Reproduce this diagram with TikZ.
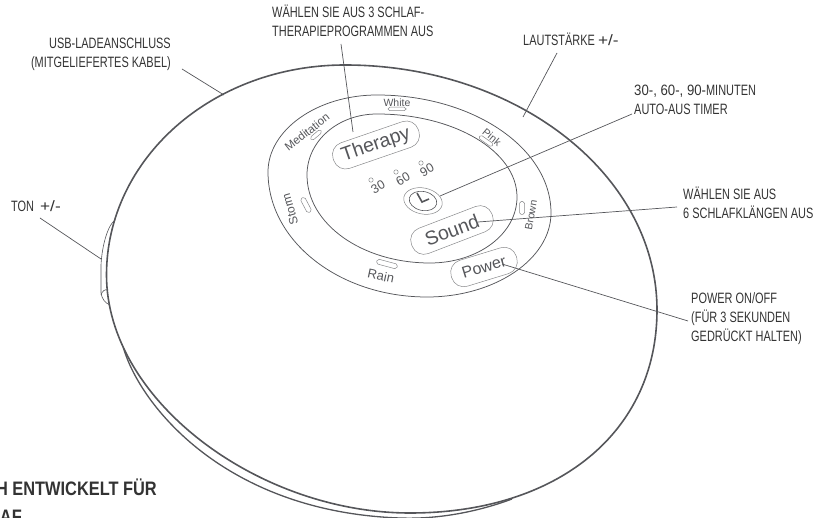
\documentclass[tikz,border=0pt]{standalone}
\usepackage{fontspec}
\setmainfont{Liberation Sans}
\newfontfamily\condf[FakeStretch=0.73]{Liberation Sans}
\newfontfamily\condb[FakeStretch=0.84]{Liberation Sans}
\newfontfamily\digf[FakeStretch=0.88]{Liberation Sans}
\newfontfamily\plusf[FakeStretch=1.15]{Liberation Sans}
\usetikzlibrary{shapes.geometric}
\definecolor{ink}{HTML}{55565A}
\definecolor{txt}{HTML}{333333}
\tikzset{
  body/.style={draw=ink,line width=1.6pt,line join=round},
  ring/.style={draw=ink,line width=0.75pt},
  leader/.style={draw=ink,line width=0.7pt},
  lab/.style={font=\condf\fontsize{15}{19}\selectfont,text=txt,inner sep=0pt,align=left},
  headline/.style={font=\condb\bfseries\fontsize{19.5}{20}\selectfont,text=txt,inner sep=0pt,anchor=base east},
  pill/.style={draw=ink!70,line width=0.5pt,rounded corners=12.5pt,inner sep=0pt,text=ink,minimum height=27pt},
  led/.style={draw=ink!70,line width=0.5pt,rounded corners=1.8pt,inner sep=0pt,minimum height=4pt},
  dial/.style={text=ink,inner sep=0pt},
  dot/.style={draw=ink!70,line width=0.5pt,circle,inner sep=0pt,minimum size=4.4pt}
}
\begin{document}
\begin{tikzpicture}[x=1pt,y=-1pt]
\useasboundingbox (0,0) rectangle (817,518);
\clip (0,0) rectangle (817,518);
% body outline
\draw[body] (345,65) .. controls (517,65) and (657,175) .. (657,310)
  .. controls (657,432) and (558,513) .. (410,513)
  .. controls (258,513) and (106.5,400) .. (106.5,275)
  .. controls (106.5,159) and (212,65) .. (345,65) -- cycle;
\draw[body,line width=1.3pt] (123.5,348) .. controls (140,405) and (225,512) .. (400,518)
  .. controls (440,519.5) and (480,511) .. (512,499);
% side button
\draw[draw=ink,line width=0.6pt] (115,220) .. controls (108,225) and (102,245) .. (101,265) -- (101,293) .. controls (102,299) and (105,303) .. (110,305);
\draw[draw=ink,line width=0.6pt] (101,295) .. controls (102,291) and (105,289) .. (108,290);
% panel rings
\draw[ring] (377,95) .. controls (473,95) and (551,148) .. (551,213)
  .. controls (551,259) and (495,297) .. (427,297)
  .. controls (339,297) and (268,241) .. (268,172)
  .. controls (268,130) and (317,95) .. (377,95) -- cycle;
\draw[ring] (377,114) .. controls (454,114) and (517,151) .. (517,197)
  .. controls (517,234) and (478,263) .. (430,263)
  .. controls (362,263) and (307,224) .. (307,175)
  .. controls (307,141) and (338,114) .. (377,114) -- cycle;
% pills
\node[pill,rotate=19,minimum width=90pt,font=\fontsize{19.5}{20}\selectfont] (therapy) at (376,145) {Therapy};
\node[pill,rotate=21,minimum width=86pt,font=\fontsize{19.5}{20}\selectfont] (sound) at (452,230) {Sound};
\node[pill,rotate=17,minimum width=68pt,font=\fontsize{16}{17}\selectfont] (power) at (484,267) {Power};
% clock
\node[draw=ink!70,line width=0.5pt,ellipse,rotate=-12,minimum width=39pt,minimum height=26pt,inner sep=0pt] (clockout) at (423,201) {};
\node[draw=ink,line width=0.6pt,ellipse,rotate=-12,minimum width=28pt,minimum height=19pt,inner sep=0pt] (clockin) at (423,201) {};
\draw[draw=ink,line width=1.6pt] (417,193) -- (422,202) -- (429,199);
% dial labels
\node[dial,rotate=38,font=\fontsize{11.5}{12}\selectfont] (med) at (307,132) {Meditation};
\node[dial,font=\fontsize{10.5}{11}\selectfont] (white) at (397,103) {White};
\node[dial,rotate=-40,font=\fontsize{10.5}{11}\selectfont] (pink) at (492,137) {Pink};
\node[dial,rotate=80,font=\fontsize{10.5}{11}\selectfont] (brown) at (531,215) {Brown};
\node[dial,rotate=106,font=\fontsize{12}{13}\selectfont] (storm) at (290,209) {Storm};
\node[dial,rotate=-12,font=\fontsize{13}{14}\selectfont] (rain) at (381,276) {Rain};
\node[dial,rotate=30,font=\fontsize{12.5}{13}\selectfont] (t30) at (378,187) {30};
\node[dial,rotate=30,font=\fontsize{12.5}{13}\selectfont] (t60) at (403,179) {60};
\node[dial,rotate=30,font=\fontsize{12.5}{13}\selectfont] (t90) at (427,170) {90};
\node[dot] (d30) at (371,180) {};
\node[dot] (d60) at (396,172) {};
\node[dot] (d90) at (421,163) {};
% leds
\node[led,rotate=40,minimum width=13pt] (lmed) at (316,135) {};
\node[led,minimum width=18pt,minimum height=3.5pt] (lwhite) at (397,109) {};
\node[led,rotate=-35,minimum width=16pt] (lpink) at (486,141) {};
\node[led,rotate=90,minimum width=13pt,minimum height=5pt] (lbrown) at (522,208) {};
\node[led,rotate=-62,minimum width=16pt,minimum height=5pt] (lstorm) at (306,205) {};
\node[led,rotate=-15,minimum width=21pt,minimum height=5pt] (lrain) at (387,264) {};
% labels (anchor: baseline of the last line)
\node[lab,anchor=base east,align=right] (usb) at (171,68) {USB-LADEANSCHLUSS\\(MITGELIEFERTES KABEL)};
\node[lab,anchor=base west] (ton) at (11,212) {TON\hspace{3pt} {\plusf +/-}};
\node[lab,anchor=base west] (prog) at (272,37) {WÄHLEN SIE AUS 3 SCHLAF-\\THERAPIEPROGRAMMEN AUS};
\node[lab,anchor=base west] (vol) at (523,46) {LAUTSTÄRKE {\plusf +/-}};
\node[lab,anchor=base west] (timer) at (634,115) {{\digf 30-, 60-, 90-}MINUTEN\\AUTO-AUS TIMER};
\node[lab,anchor=base west] (len) at (683,219) {WÄHLEN SIE AUS\\6 SCHLAFKLÄNGEN AUS};
\node[lab,anchor=base west] (pow) at (691,342) {POWER ON/OFF\\(FÜR 3 SEKUNDEN\\GEDRÜCKT HALTEN)};
\node[headline] (head) at (157,496) {H ENTWICKELT FÜR};
\node[headline] (head2) at (22,523) {AF};
% leader ends
\coordinate (a1) at (182,69); \coordinate (a2) at (224,95);
\coordinate (b1) at (40,218); \coordinate (b2) at (101,259);
\coordinate (c1) at (341,44); \coordinate (c2) at (353,132);
\coordinate (e1) at (557,53); \coordinate (e2) at (523,117);
\coordinate (f1) at (632,114); \coordinate (f2) at (440,196);
\coordinate (g1) at (677,207); \coordinate (g2) at (478,222);
\coordinate (h1) at (688,321); \coordinate (h2) at (502,264);
\draw[leader] (a1) -- (a2);
\draw[leader] (b1) -- (b2);
\draw[leader] (c1) -- (c2);
\draw[leader] (e1) -- (e2);
\draw[leader] (f1) -- (f2);
\draw[leader] (g1) -- (g2);
\draw[leader] (h1) -- (h2);
\end{tikzpicture}
\end{document}
